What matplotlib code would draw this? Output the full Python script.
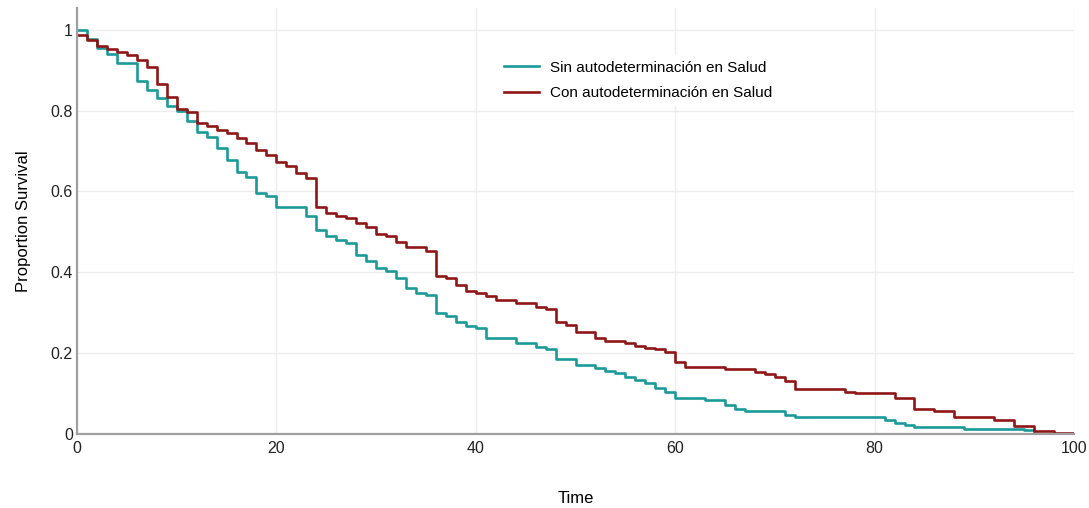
import matplotlib
matplotlib.use('Agg')
import matplotlib.pyplot as plt

# Kaplan-Meier style step data
sin_t = [0, 1, 2, 3, 4, 6, 7, 8, 9, 10, 11, 12, 13, 14, 15, 16, 17, 18, 19, 20,
         23, 24, 25, 26, 27, 28, 29, 30, 31, 32, 33, 34, 35, 36, 37, 38, 39, 40, 41,
         44, 46, 47, 48, 50, 52, 53, 54, 55, 56, 57, 58, 59, 60,
         63, 65, 66, 67, 71, 72, 81, 82, 83, 84, 89, 95, 96]
sin_s = [1.0, 0.978, 0.955, 0.940, 0.917, 0.874, 0.851, 0.831, 0.812, 0.798, 0.775,
         0.747, 0.736, 0.708, 0.678, 0.649, 0.635, 0.597, 0.588, 0.562,
         0.539, 0.504, 0.490, 0.479, 0.472, 0.443, 0.427, 0.410, 0.404, 0.385, 0.361,
         0.350, 0.344, 0.300, 0.292, 0.278, 0.267, 0.262, 0.237,
         0.224, 0.216, 0.210, 0.185, 0.171, 0.164, 0.157, 0.150, 0.142, 0.134, 0.125,
         0.115, 0.104, 0.088,
         0.084, 0.071, 0.061, 0.056, 0.047, 0.041, 0.035, 0.028, 0.023, 0.018, 0.013,
         0.010, 0.0]

con_t = list(range(0, 34)) + [35, 36, 37, 38, 39, 40, 41, 42,
         44, 46, 47, 48, 49, 50, 52, 53, 55, 56, 57, 58, 59, 60, 61, 65, 68, 69, 70,
         71, 72, 77, 78, 82, 84, 86, 88, 92, 94, 96, 98, 100]
con_s = [0.988, 0.975, 0.959, 0.953, 0.946, 0.938, 0.926, 0.909,
         0.866, 0.835, 0.804, 0.796, 0.769, 0.762, 0.751, 0.744, 0.732, 0.720, 0.703,
         0.691, 0.674, 0.662, 0.645, 0.634,
         0.561, 0.546, 0.540, 0.534, 0.523, 0.513, 0.495, 0.490, 0.476, 0.462,
         0.454, 0.391, 0.385, 0.369, 0.354, 0.348, 0.342, 0.332,
         0.325, 0.315, 0.309, 0.276, 0.270, 0.253, 0.237, 0.231, 0.224, 0.218, 0.212,
         0.210, 0.204, 0.177, 0.167, 0.160, 0.154, 0.149, 0.140, 0.132, 0.111, 0.105,
         0.102, 0.088, 0.061, 0.058, 0.041, 0.035, 0.020, 0.008, 0.002, 0.002]

labels = ['Sin autodeterminación en Salud', 'Con autodeterminación en Salud']
colors = ['#1a9a98', '#8e1616']

plt.rcParams['font.family'] = ['Liberation Sans', 'DejaVu Sans']

fig = plt.figure(figsize=(10.89, 5.08), dpi=100)
ax = fig.add_axes([77 / 1089, 74 / 508, 997 / 1089, 426 / 508])

ax.step(sin_t, sin_s, where='post', color=colors[0], lw=1.9, label=labels[0])
ax.step(con_t, con_s, where='post', color=colors[1], lw=1.9, label=labels[1])

ax.set_xlim(0, 100)
ax.set_ylim(0, 1.054)
ax.set_xticks([0, 20, 40, 60, 80, 100])
ax.set_yticks([0, 0.2, 0.4, 0.6, 0.8, 1])
ax.set_yticklabels(['0', '0.2', '0.4', '0.6', '0.8', '1'])
ax.tick_params(length=0, labelsize=11.5, pad=3, colors='#222222')
ax.tick_params(axis='x', pad=5)
ax.grid(True, color='#ececec', lw=1)
ax.set_axisbelow(True)

for s in ['top', 'right']:
    ax.spines[s].set_visible(False)
for s in ['left', 'bottom']:
    ax.spines[s].set_color('#a0a0a0')
    ax.spines[s].set_linewidth(1.6)

ax.set_xlabel('Time', fontsize=12, labelpad=25)
ax.set_ylabel('Proportion Survival', fontsize=12, labelpad=14)

leg = ax.legend(loc='upper left', bbox_to_anchor=(490 / 1089, 1 - 47 / 508),
                bbox_transform=fig.transFigure, frameon=True, fontsize=11,
                handlelength=2.3, handletextpad=0.75, labelspacing=0.75,
                borderpad=0.4)
leg.get_frame().set_edgecolor('none')
leg.get_frame().set_facecolor('white')
leg.get_frame().set_alpha(1)

fig.savefig('out.png', dpi=100)
